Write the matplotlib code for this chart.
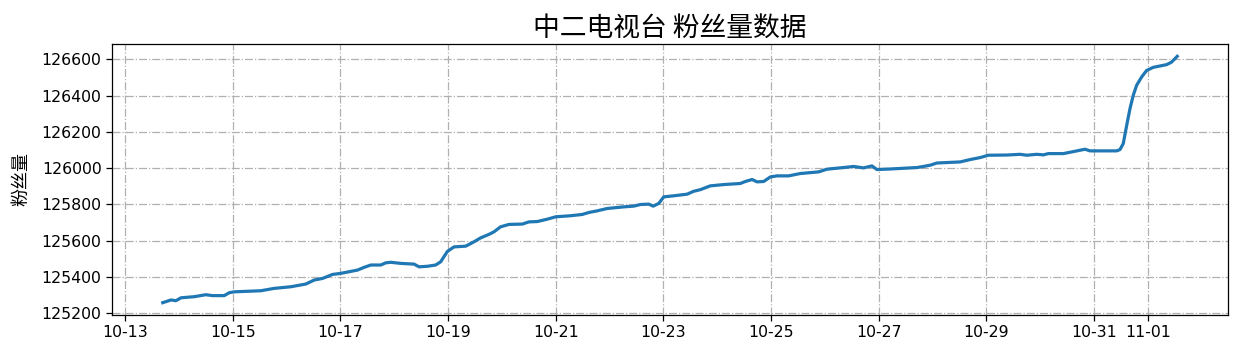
import matplotlib
matplotlib.use("Agg")
import matplotlib.pyplot as plt
import matplotlib.dates as mdates
import pandas as pd

title = "中二电视台 粉丝量数据"
ylabel = "粉丝量"

times = [
    "10-13 16:48", "10-13 20:29", "10-13 22:42", "10-14 00:56", "10-14 06:44",
    "10-14 12:04", "10-14 15:03", "10-14 20:13", "10-14 22:27", "10-15 00:41",
    "10-15 12:34", "10-15 18:29", "10-16 01:55", "10-16 08:36", "10-16 12:19",
    "10-16 16:03", "10-16 20:30", "10-17 00:12", "10-17 07:38", "10-17 10:35",
    "10-17 13:34", "10-17 18:00", "10-17 20:14", "10-17 22:28", "10-18 02:55",
    "10-18 08:50", "10-18 11:04", "10-18 14:48", "10-18 18:30", "10-18 20:44",
    "10-18 23:43", "10-19 02:40", "10-19 07:52", "10-19 11:34", "10-19 14:33",
    "10-19 18:14", "10-19 20:28", "10-19 23:27", "10-20 03:09", "10-20 09:07",
    "10-20 12:03", "10-20 15:48", "10-20 20:15", "10-21 00:00", "10-21 06:37",
    "10-21 11:50", "10-21 14:47", "10-21 18:31", "10-21 22:58", "10-22 06:22",
    "10-22 10:49", "10-22 13:48", "10-22 17:30", "10-22 19:28", "10-22 21:58",
    "10-23 00:10", "10-23 04:38", "10-23 10:35", "10-23 13:32", "10-23 16:31",
    "10-23 20:58", "10-24 02:54", "10-24 10:19", "10-24 12:33", "10-24 15:33",
    "10-24 17:46", "10-24 20:43", "10-24 23:41", "10-25 02:41", "10-25 07:51",
    "10-25 13:03", "10-25 21:13", "10-26 00:58", "10-26 08:21", "10-26 12:48",
    "10-26 17:15", "10-26 21:00", "10-26 23:13", "10-27 05:08", "10-27 11:04",
    "10-27 17:02", "10-27 19:58", "10-27 22:58", "10-28 01:57", "10-28 12:19",
    "10-28 16:46", "10-28 21:13", "10-29 00:55", "10-29 09:07", "10-29 15:03",
    "10-29 18:01", "10-29 22:29", "10-30 01:25", "10-30 03:39", "10-30 10:19",
    "10-30 14:47", "10-30 19:59", "10-30 22:12", "10-31 10:06", "10-31 11:34",
    "10-31 13:02", "10-31 14:34", "10-31 16:02", "10-31 17:30", "10-31 19:00",
    "10-31 21:14", "10-31 23:28", "11-01 02:24", "11-01 08:22", "11-01 10:36",
    "11-01 13:06",
]

followers = [
    125257, 125272, 125268, 125284, 125290,
    125301, 125296, 125296, 125312, 125317,
    125323, 125336, 125345, 125360, 125382,
    125391, 125413, 125419, 125437, 125452,
    125465, 125465, 125477, 125480, 125474,
    125470, 125455, 125458, 125465, 125483,
    125540, 125565, 125569, 125593, 125615,
    125634, 125648, 125676, 125689, 125691,
    125703, 125705, 125718, 125731, 125737,
    125744, 125755, 125764, 125777, 125786,
    125790, 125799, 125801, 125790, 125805,
    125841, 125847, 125856, 125872, 125881,
    125902, 125909, 125915, 125926, 125937,
    125924, 125926, 125951, 125957, 125957,
    125970, 125979, 125994, 126003, 126009,
    126001, 126012, 125992, 125995, 125999,
    126003, 126009, 126016, 126028, 126034,
    126047, 126058, 126071, 126072, 126076,
    126071, 126076, 126073, 126080, 126080,
    126091, 126104, 126095, 126095, 126102,
    126135, 126236, 126328, 126402, 126457,
    126503, 126539, 126556, 126571, 126585,
    126617,
]

dt = pd.to_datetime(["2023-" + t for t in times], format="%Y-%m-%d %H:%M")

fig = plt.figure(figsize=(12.43, 3.57), dpi=100)
ax = fig.add_axes([0.0901, 0.1176, 0.8978, 0.7592])
ax.plot(dt, followers, color="#1f77b4", linewidth=2.3)

ax.xaxis.set_major_locator(mdates.DayLocator(bymonthday=range(1, 32, 2)))
ax.xaxis.set_major_formatter(mdates.DateFormatter("%m-%d"))
ax.tick_params(axis="both", labelsize=11.3, length=4, width=0.9)
for s in ax.spines.values():
    s.set_linewidth(0.9)

ax.grid(True, linestyle="-.", color="#b0b0b0", linewidth=0.9)
ax.set_title(title, fontsize=19.3, family=["Noto Sans CJK SC", "DejaVu Sans"], pad=6)
ax.set_ylabel(ylabel, fontsize=13, family=["Noto Sans CJK SC", "DejaVu Sans"], labelpad=8)

fig.savefig("out.png", dpi=100)
